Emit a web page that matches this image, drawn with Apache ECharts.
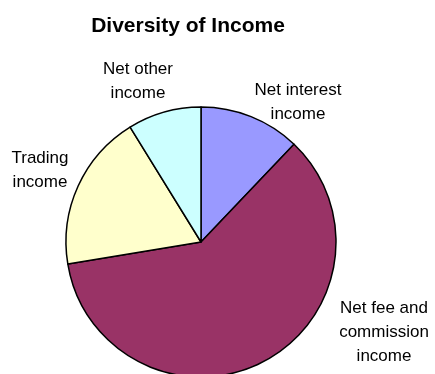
<!DOCTYPE html>
<html><head><meta charset="utf-8">
<script src="https://cdn.jsdelivr.net/npm/echarts@6/dist/echarts.min.js"></script>
<style>html,body{margin:0;padding:0;background:#fff}#c{width:435px;height:374px}</style>
</head><body><div id="c"></div>
<script>
const categories = ["Net interest\nincome", "Net fee and\ncommission\nincome", "Trading\nincome", "Net other\nincome"];
const values = [12.1, 60.3, 18.8, 8.8];
const colors = ["#9999FF", "#993366", "#FFFFCC", "#CCFFFF"];
const labelPos = [[298, 102], [384, 332], [40, 170], [138, 81]];

const chart = echarts.init(document.getElementById('c'), null, {renderer: 'canvas'});
chart.setOption({
  animation: false,
  title: {
    text: 'Diversity of Income', left: 183, top: 11, textAlign: 'center',
    textStyle: {fontFamily: 'Liberation Sans, Arial', fontSize: 21, fontWeight: 'bold', color: '#000'}
  },
  series: [{
    type: 'pie',
    center: [201, 242],
    radius: 135,
    startAngle: 90,
    clockwise: true,
    silent: true,
    itemStyle: {borderColor: '#000', borderWidth: 1.5},
    label: {
      show: true, position: 'outside', color: '#000', overflow: 'none',
      fontFamily: 'Liberation Sans, Arial', fontSize: 17, lineHeight: 24, align: 'center'
    },
    labelLine: {show: false},
    labelLayout: function (p) {
      const pos = labelPos[p.dataIndex];
      return {x: pos[0], y: pos[1], align: 'center', verticalAlign: 'middle'};
    },
    data: categories.map((c, i) => ({name: c, value: values[i], itemStyle: {color: colors[i]}}))
  }]
});
</script></body></html>
